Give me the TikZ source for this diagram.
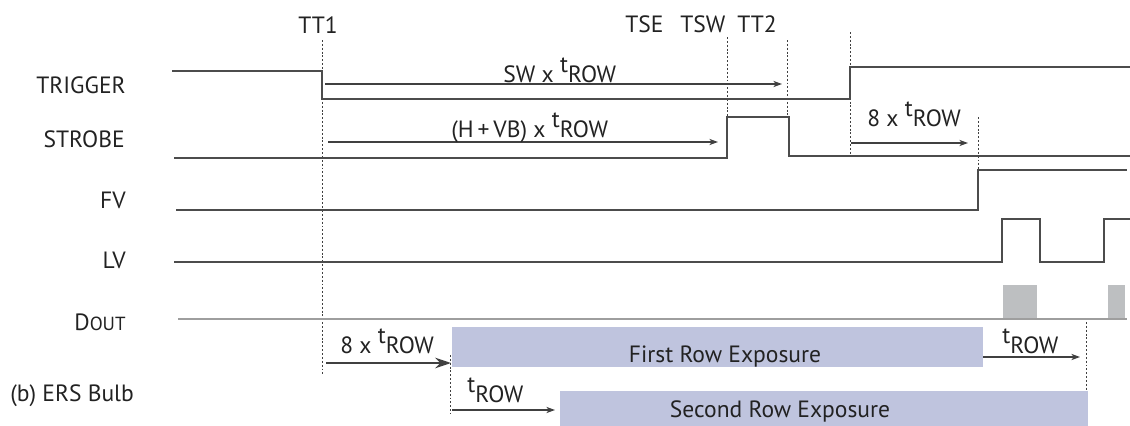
\documentclass[tikz,border=0pt]{standalone}
\usepackage{fontspec}
\setmainfont{PT Sans}
\usetikzlibrary{arrows.meta, positioning}

\definecolor{expo}{HTML}{BFC4DE}
\definecolor{dbox}{HTML}{BDBFC1}
\definecolor{ink}{HTML}{222222}
\newcommand\trow{\raisebox{.42em}{t}ROW}

\begin{document}
\begin{tikzpicture}[x=0.02cm, y=-0.02cm,
  lab/.style={font=\fontsize{13.4}{15}\selectfont, inner sep=0pt, text=ink},
  sig/.style={draw=black!70, line width=0.7pt},
  dsig/.style={draw=black!38, line width=1.2pt},
  tickline/.style={draw=black!75, line width=0.55pt, dash pattern=on 1.1pt off 1.1pt},
  dur/.style={-{Stealth[length=5pt,width=3.6pt]}, draw=black!75, line width=0.65pt}]
  \useasboundingbox (0,0) rectangle (1130,426);

  % signal names
  \node[lab,anchor=base east] (trig) at (126,93) {TRIGGER};
  \node[lab,anchor=base east] (strb) at (125,147) {STROBE};
  \node[lab,anchor=base east] (fv)   at (126,208) {FV};
  \node[lab,anchor=base east] (lv)   at (126,268) {LV};
  \node[lab,anchor=base east] (dout) at (126,330) {D{\fontsize{10.8}{12}\selectfont OUT}};
  \node[lab,anchor=base west] (ers)  at (10,401) {(b) ERS Bulb};

  % time marks
  \node[lab,anchor=base] (tt1) at (318,33) {TT1};
  \node[lab,anchor=base west] (tse) at (625,32) {TSE};
  \node[lab,anchor=base west] (tsw) at (680,32) {TSW};
  \node[lab,anchor=base west] (tt2) at (737,32) {TT2};
  \foreach \n/\x/\a/\b in {m1/322/40/375, m2/727/37/117, m3/787/40/117, m4/850/32/155,
                            m5/978/117/170, m6/1086/322/390, m7/450/355/413}{
    \coordinate (\n a) at (\x,\a);
    \coordinate (\n b) at (\x,\b);
    \draw[tickline] (\n a) -- (\n b);
  }

  % exposure bars
  \fill[expo] (452,327) rectangle (983,367);
  \fill[expo] (560,391) rectangle (1088,426);
  \node[lab,anchor=base] (row1) at (725,362) {First Row Exposure};
  \node[lab,anchor=base] (row2) at (780,417) {Second Row Exposure};

  % waveforms
  \draw[sig] (172,71) -- (322,71) -- (322,99) -- (850,99) -- (850,67) -- (1130,67);
  \draw[sig] (174,158) -- (727,158) -- (727,117) -- (789,117) -- (789,156) -- (1130,156);
  \draw[sig] (176,210) -- (978,210) -- (978,170) -- (1127,170);
  \draw[sig] (174,262) -- (1002,262) -- (1002,219) -- (1040,219) -- (1040,262)
             -- (1104,262) -- (1104,219) -- (1130,219);
  \fill[dbox] (1003,285) rectangle (1037,318);
  \fill[dbox] (1108,285) rectangle (1125,318);
  \draw[dsig] (178,319) -- (1127,319);

  % durations
  \coordinate (swa) at (325,84);   \coordinate (swb) at (782,84);
  \coordinate (hva) at (328,142);  \coordinate (hvb) at (718,142);
  \coordinate (e1a) at (851,143);  \coordinate (e1b) at (968,143);
  \coordinate (e2a) at (326,363);  \coordinate (e2b) at (451,363);
  \coordinate (r1a) at (452,410);  \coordinate (r1b) at (555,410);
  \coordinate (r2a) at (983,357);  \coordinate (r2b) at (1080,357);

  \draw[dur] (swa) -- (swb);
  \draw[dur] (hva) -- (hvb);
  \draw[dur] (e1a) -- (e1b);
  \draw[dur,line width=1.2pt,-{Stealth[length=9pt,width=6pt]}] (e2a) -- (e2b);
  \draw[dur] (r1a) -- (r1b);
  \draw[dur] (r2a) -- (r2b);

  \node[lab,anchor=base west] (swl) at (503,82)  {SW x~\trow};
  \node[lab,anchor=base west] (hvl) at (451,137) {(H\,+\,VB) x~\trow};
  \node[lab,anchor=base west] (e1l) at (867,126) {8 x~\trow};
  \node[lab,anchor=base west] (e2l) at (340,353) {8 x~\trow};
  \node[lab,anchor=base west] (r1l) at (467,402) {\trow};
  \node[lab,anchor=base west] (r2l) at (1002,353) {\trow};
\end{tikzpicture}
\end{document}
